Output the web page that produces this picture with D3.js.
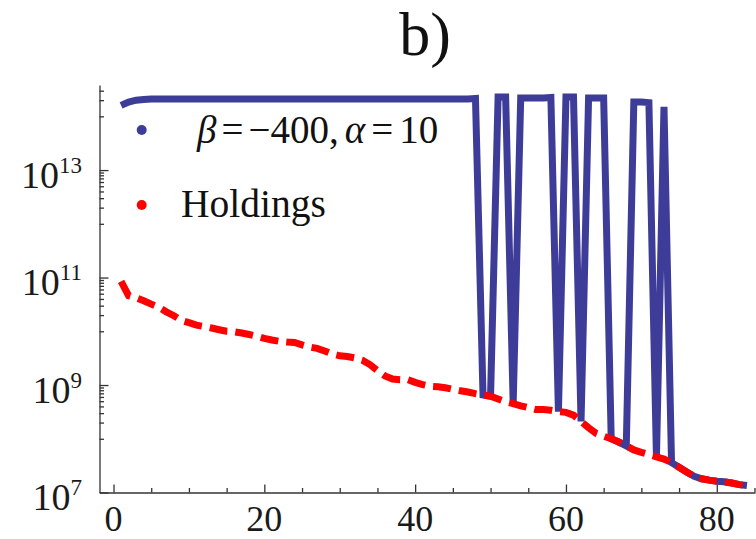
<!DOCTYPE html>
<html>
<head>
<meta charset="utf-8">
<script src="https://cdn.jsdelivr.net/npm/d3@7"></script>
<style>
  html, body { margin: 0; padding: 0; background: #fff; }
  svg { display: block; }
</style>
</head>
<body>
<svg id="chart" width="756" height="539"></svg>
<script>
// ---------------- data ----------------
const ranks = d3.range(1, 85); // 1..84

const holdings = [
  8.5e10, 4.6e10, 4.2e10, 3.7e10, 3.2e10, 2.8e10, 2.3e10, 1.95e10, 1.6e10, 1.45e10,
  1.3e10, 1.23e10, 1.15e10, 1.07e10, 1.0e10, 9.8e9, 9.3e9, 8.7e9, 8.1e9, 7.4e9,
  6.9e9, 6.5e9, 6.3e9, 6.2e9, 5.6e9, 5.1e9, 4.8e9, 4.3e9, 3.8e9, 3.5e9,
  3.4e9, 3.2e9, 2.9e9, 2.4e9, 1.86e9, 1.48e9, 1.29e9, 1.26e9, 1.26e9, 1.12e9,
  1.02e9, 9.5e8, 9.3e8, 8.9e8, 8.3e8, 7.8e8, 7.4e8, 6.9e8, 6.5e8, 6.2e8,
  5.5e8, 4.9e8, 4.5e8, 4.1e8, 3.8e8, 3.5e8, 3.5e8, 3.4e8, 3.2e8, 3.1e8,
  2.75e8, 2.1e8, 1.6e8, 1.26e8, 1.12e8, 1.0e8, 8.7e7, 7.4e7, 6.2e7, 5.6e7,
  5.1e7, 4.6e7, 4.2e7, 3.6e7, 2.95e7, 2.4e7, 2.0e7, 1.8e7, 1.7e7, 1.62e7,
  1.58e7, 1.5e7, 1.4e7, 1.35e7
];

const model = [
  1.6e14, 1.85e14, 2.0e14, 2.05e14, 2.1e14, 2.1e14, 2.1e14, 2.1e14, 2.1e14, 2.1e14,
  2.1e14, 2.1e14, 2.1e14, 2.1e14, 2.1e14, 2.1e14, 2.1e14, 2.1e14, 2.1e14, 2.1e14,
  2.1e14, 2.1e14, 2.1e14, 2.1e14, 2.1e14, 2.1e14, 2.1e14, 2.1e14, 2.1e14, 2.1e14,
  2.1e14, 2.1e14, 2.1e14, 2.1e14, 2.1e14, 2.1e14, 2.1e14, 2.1e14, 2.1e14, 2.1e14,
  2.1e14, 2.1e14, 2.1e14, 2.1e14, 2.1e14, 2.1e14, 2.1e14, 2.15e14, 6.5e8, 6.2e8,
  2.3e14, 2.3e14, 4.5e8, 2.2e14, 2.2e14, 2.2e14, 2.2e14, 2.25e14, 3.2e8, 2.3e14,
  2.3e14, 2.1e8, 2.2e14, 2.2e14, 2.2e14, 1.0e8, 8.7e7, 7.4e7, 1.85e14, 1.85e14,
  1.8e14, 4.6e7, 1.5e14, 3.6e7, 2.95e7, 2.4e7, 2.0e7, 1.8e7, 1.7e7, 1.62e7,
  1.58e7, 1.5e7, 1.4e7, 1.35e7
];

const xMajorTicks = [0, 20, 40, 60, 80];
const xMinorTicks = [5, 10, 15, 25, 30, 35, 45, 50, 55, 65, 70, 75, 85];
const yMajorExps = [7, 9, 11, 13];
const yMinorExps = [8, 10, 12, 14];
const legendLabels = ["model", "Holdings"];
const titleText = "b)";

(function () {
// ---------------- layout ----------------
const mLeft = 99.5, mRight = 755, mTop = 85, mBottom = 492.5;
const blue = "#3d3d99", red = "#ff0000";
const serif = "'Liberation Serif', 'Times New Roman', serif";

const svg = d3.select("#chart");

const x = d3.scaleLinear().domain([-1.86, 85.07]).range([mLeft, mRight]);
const y = d3.scaleLog().domain([1e7, 3.83e14]).range([mBottom, mTop]);

// title
svg.append("text")
  .attr("x", 425).attr("y", 55)
  .attr("text-anchor", "middle")
  .attr("font-family", serif).attr("font-size", 62)
  .attr("fill", "#111")
  .text(titleText);

// ---------------- axes ----------------
const gx = svg.append("g").attr("transform", `translate(0,${mBottom})`);
gx.call(d3.axisBottom(x).tickValues(xMajorTicks).tickSize(-8).tickSizeOuter(0).tickFormat(""));
const gx2 = svg.append("g").attr("transform", `translate(0,${mBottom})`);
gx2.call(d3.axisBottom(x).tickValues(xMinorTicks.filter(v => x(v) <= mRight)).tickSize(-4.5).tickSizeOuter(0).tickFormat(""));
gx2.select(".domain").remove();

const yMinorVals = [];
yMinorExps.forEach(e => { for (let k = 1; k <= 9; k++) { const v = k * Math.pow(10, e); if (v <= y.domain()[1]) yMinorVals.push(v); } });
const yMajorVals = yMajorExps.map(e => Math.pow(10, e));

const gy = svg.append("g").attr("transform", `translate(${mLeft},0)`);
gy.call(d3.axisLeft(y).tickValues(yMajorVals).tickSize(-9).tickSizeOuter(0).tickFormat(""));
const gy2 = svg.append("g").attr("transform", `translate(${mLeft},0)`);
gy2.call(d3.axisLeft(y).tickValues(yMinorVals).tickSize(-4.5).tickSizeOuter(0).tickFormat(""));
gy2.select(".domain").remove();

svg.selectAll(".domain, .tick line").attr("stroke", "#333").attr("stroke-width", 1.3);

// x tick labels
svg.append("g").selectAll("text").data(xMajorTicks).join("text")
  .attr("x", d => x(d)).attr("y", 531)
  .attr("text-anchor", "middle")
  .attr("font-family", serif).attr("font-size", 36).attr("fill", "#1a1a1a")
  .text(d => d);

// y tick labels with superscripts
const yl = svg.append("g").selectAll("text").data(yMajorExps).join("text")
  .attr("x", 82).attr("y", d => y(Math.pow(10, d)) + 17.5)
  .attr("text-anchor", "end")
  .attr("font-family", serif).attr("font-size", 38).attr("fill", "#1a1a1a");
yl.append("tspan").text("10");
yl.append("tspan").attr("font-size", 23).attr("dy", -15).text(d => d);

// ---------------- lines ----------------
const line = d3.line().x(d => x(d[0])).y(d => y(d[1]));

svg.append("path")
  .datum(ranks.map((r, i) => [r, model[i]]))
  .attr("d", line)
  .attr("fill", "none").attr("stroke", blue).attr("stroke-width", 7)
  .attr("stroke-linejoin", "miter").attr("stroke-miterlimit", 3);

svg.append("path")
  .datum(ranks.map((r, i) => [r, holdings[i]]))
  .attr("d", line)
  .attr("fill", "none").attr("stroke", red).attr("stroke-width", 7)
  .attr("stroke-dasharray", "18,8");

// ---------------- legend ----------------
svg.append("circle").attr("cx", 141.7).attr("cy", 130).attr("r", 5).attr("fill", blue);
svg.append("circle").attr("cx", 141.7).attr("cy", 205).attr("r", 5).attr("fill", red);

const lt = svg.append("text").attr("x", 197).attr("y", 143)
  .attr("font-family", serif).attr("font-size", 39).attr("fill", "#111");
lt.append("tspan").attr("font-style", "italic").text("β");
lt.append("tspan").attr("dx", 5).text("=");
lt.append("tspan").attr("dx", 5).text("−400,");
lt.append("tspan").attr("dx", 6).attr("font-style", "italic").text("α");
lt.append("tspan").attr("dx", 6).text("=");
lt.append("tspan").attr("dx", 6).text("10");

svg.append("text").attr("x", 181).attr("y", 216.5)
  .attr("font-family", serif).attr("font-size", 39.5).attr("fill", "#111")
  .text(legendLabels[1]);
})();
</script>
</body>
</html>
